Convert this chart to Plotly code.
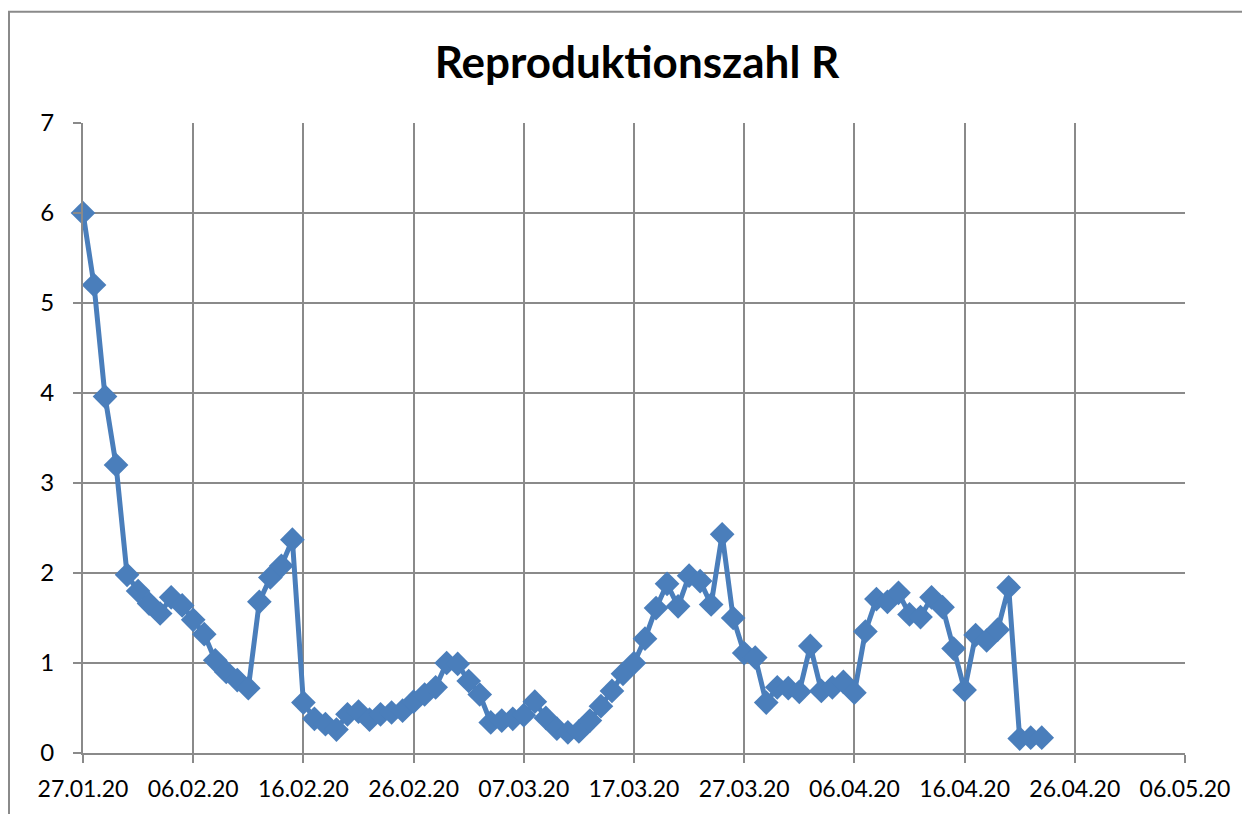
import pandas as pd
import plotly.graph_objects as go

start_date = "2020-01-27"
r_values = [
    6.0, 5.2, 3.96, 3.2, 1.98, 1.80, 1.66, 1.55, 1.73, 1.64,
    1.48, 1.32, 1.03, 0.90, 0.81, 0.72, 1.68, 1.95, 2.08, 2.37,
    0.56, 0.38, 0.32, 0.26, 0.43, 0.46, 0.37, 0.43, 0.45, 0.47,
    0.57, 0.65, 0.73, 1.00, 0.99, 0.80, 0.65, 0.34, 0.36, 0.38,
    0.42, 0.57, 0.39, 0.27, 0.23, 0.24, 0.36, 0.52, 0.69, 0.88,
    1.00, 1.27, 1.61, 1.88, 1.63, 1.97, 1.91, 1.65, 2.43, 1.50,
    1.11, 1.06, 0.56, 0.73, 0.72, 0.68, 1.19, 0.69, 0.73, 0.79,
    0.67, 1.35, 1.71, 1.68, 1.78, 1.54, 1.51, 1.73, 1.62, 1.16,
    0.70, 1.31, 1.25, 1.37, 1.84, 0.16, 0.17, 0.17,
]
dates = pd.date_range(start_date, periods=len(r_values), freq="D")
x_range = ["2020-01-27", "2020-05-06"]
title_text = "Reproduktionszahl R"

OFF = 8  # page body margin
W, H = 1250 - OFF, 814 - OFF
L, T = 83 - OFF, 123 - OFF
pw, ph = 1102, 632
R, B = W - L - pw, H - T - ph

blue = "#4a7ebb"
grid = "#8a8a8a"
font = "Lato, Calibri, Carlito, sans-serif"

fig = go.Figure()
fig.add_trace(go.Scatter(
    x=dates, y=r_values, mode="lines+markers",
    line=dict(color=blue, width=5),
    marker=dict(symbol="diamond", size=19, color=blue),
    cliponaxis=False, showlegend=False,
))

fig.update_layout(
    width=W, height=H,
    margin=dict(l=L, r=R, t=T, b=B),
    paper_bgcolor="white", plot_bgcolor="white",
    title=dict(text="<b>" + title_text + "</b>", x=(637 - OFF - L) / pw, xref="paper",
               xanchor="center", y=1 - (63 - OFF) / H, yanchor="middle",
               font=dict(family=font, size=44, color="black")),
    font=dict(family=font, size=23, color="black"),
    xaxis=dict(
        type="date", range=x_range, tick0="2020-01-27", dtick=10 * 86400000,
        tickformat="%d.%m.%y", showgrid=True, gridcolor=grid, gridwidth=2,
        showline=True, linecolor=grid, linewidth=2, ticks="outside",
        ticklen=8, tickwidth=2, tickcolor=grid, zeroline=False,
        ticklabelstandoff=6,
        tickfont=dict(family=font, size=23, color="black"),
    ),
    yaxis=dict(
        range=[0, 7], dtick=1, tick0=0, showgrid=True, gridcolor=grid, gridwidth=2,
        showline=True, linecolor=grid, linewidth=2, ticks="outside",
        ticklen=8, tickwidth=2, tickcolor=grid, zeroline=False,
        ticklabelstandoff=14,
        tickfont=dict(family=font, size=24, color="black"),
    ),
)

fig.add_shape(type="rect", xref="paper", yref="paper",
              x0=(1 - L) / pw, x1=1 + (R + 20) / pw,
              y0=-(B + 20) / ph, y1=1 + (T - 3.5) / ph,
              line=dict(color=grid, width=2), layer="below")

fig.write_html("out.html")
